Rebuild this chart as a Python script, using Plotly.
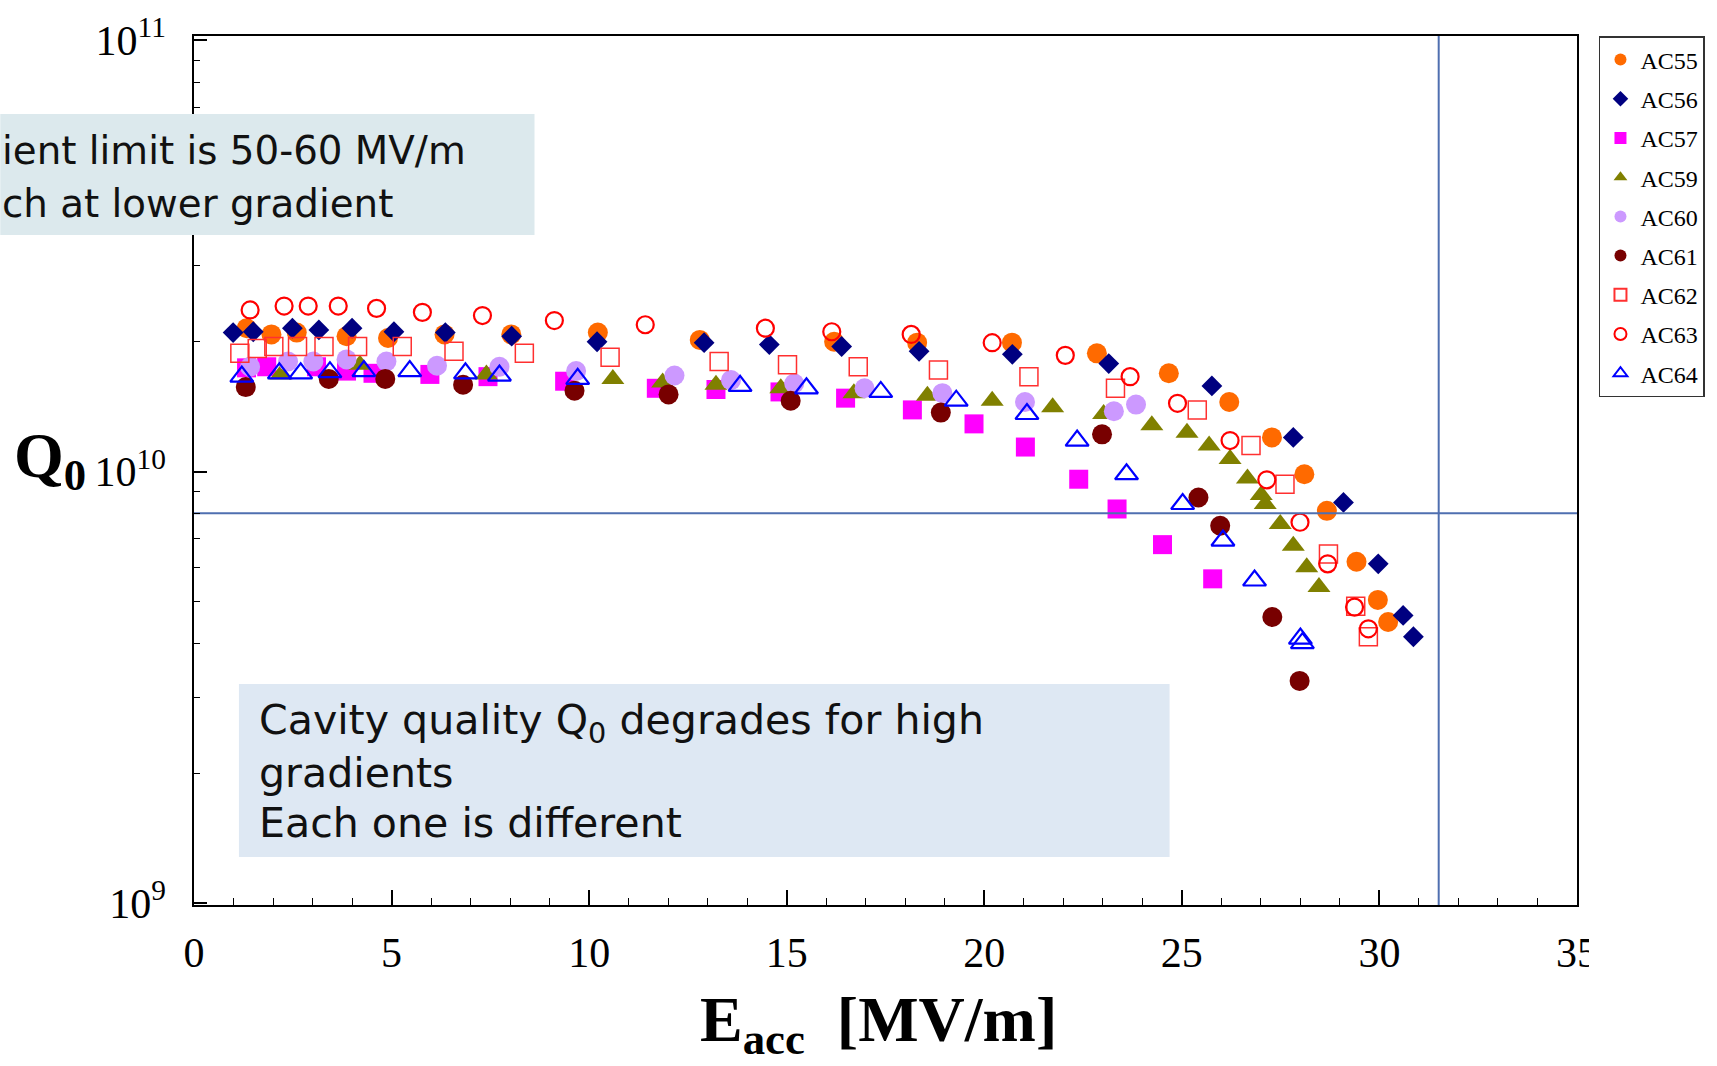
import plotly.graph_objects as go

# ---------------- data (E_acc in MV/m, Q0) ----------------
x_ac55 = [1.33, 1.96, 2.60, 3.86, 4.91, 6.34, 8.03, 10.22, 12.8, 16.2, 18.3, 20.7, 22.85, 24.67, 26.20, 27.28, 28.10, 28.67, 29.42, 29.96, 30.22]
q_ac55 = [2.15e10, 2.08e10, 2.10e10, 2.06e10, 2.04e10, 2.08e10, 2.08e10, 2.10e10, 2.02e10, 2.00e10, 1.99e10, 1.99e10, 1.88e10, 1.69e10, 1.45e10, 1.20e10, 9.86e9, 8.11e9, 6.18e9, 5.04e9, 4.48e9]

x_ac56 = [0.99, 1.50, 2.49, 3.16, 4.00, 5.06, 6.36, 8.04, 10.20, 12.91, 14.56, 16.39, 18.35, 20.71, 23.15, 25.76, 27.82, 29.09, 29.97, 30.60, 30.86]
q_ac56 = [2.10e10, 2.11e10, 2.15e10, 2.13e10, 2.15e10, 2.11e10, 2.10e10, 2.06e10, 2.00e10, 1.99e10, 1.97e10, 1.95e10, 1.90e10, 1.87e10, 1.78e10, 1.58e10, 1.20e10, 8.48e9, 6.11e9, 4.64e9, 4.14e9]

x_ac57 = [1.33, 1.84, 3.10, 3.86, 4.53, 5.97, 7.44, 9.38, 11.70, 13.21, 14.83, 16.49, 18.18, 19.74, 21.04, 22.39, 23.36, 24.51, 25.78]
q_ac57 = [1.74e10, 1.75e10, 1.75e10, 1.71e10, 1.69e10, 1.68e10, 1.66e10, 1.62e10, 1.56e10, 1.55e10, 1.53e10, 1.48e10, 1.39e10, 1.29e10, 1.14e10, 9.60e9, 8.19e9, 6.77e9, 5.64e9]

x_ac59 = [2.2, 4.2, 7.4, 10.6, 11.86, 13.21, 14.85, 16.70, 18.56, 20.20, 21.73, 23.02, 24.24, 25.13, 25.69, 26.22, 26.66, 27.01, 27.11, 27.49, 27.82, 28.16, 28.47]
q_ac59 = [1.68e10, 1.77e10, 1.68e10, 1.64e10, 1.61e10, 1.59e10, 1.56e10, 1.52e10, 1.50e10, 1.46e10, 1.41e10, 1.36e10, 1.28e10, 1.23e10, 1.15e10, 1.07e10, 9.64e9, 8.82e9, 8.41e9, 7.56e9, 6.73e9, 6.00e9, 5.40e9]

x_ac60 = [1.42, 2.38, 3.02, 3.86, 4.87, 6.15, 7.73, 9.67, 12.16, 13.59, 15.19, 16.97, 18.94, 21.03, 23.28, 23.84]
q_ac60 = [1.75e10, 1.80e10, 1.80e10, 1.82e10, 1.80e10, 1.76e10, 1.75e10, 1.71e10, 1.67e10, 1.63e10, 1.60e10, 1.56e10, 1.52e10, 1.45e10, 1.38e10, 1.43e10]

x_ac61 = [1.31, 3.41, 4.84, 6.81, 9.63, 12.01, 15.10, 18.90, 22.98, 25.42, 25.97, 27.29, 27.98]
q_ac61 = [1.57e10, 1.64e10, 1.64e10, 1.59e10, 1.54e10, 1.51e10, 1.46e10, 1.37e10, 1.22e10, 8.71e9, 7.49e9, 4.60e9, 3.27e9]

x_ac62 = [1.16, 1.60, 2.02, 2.62, 3.29, 4.14, 5.27, 6.58, 8.36, 10.53, 13.29, 15.02, 16.81, 18.84, 21.13, 23.32, 25.39, 26.75, 27.61, 28.71, 29.40, 29.72]
q_ac62 = [1.88e10, 1.93e10, 1.95e10, 1.95e10, 1.95e10, 1.95e10, 1.95e10, 1.90e10, 1.88e10, 1.84e10, 1.80e10, 1.77e10, 1.75e10, 1.72e10, 1.66e10, 1.56e10, 1.39e10, 1.15e10, 9.35e9, 6.44e9, 4.87e9, 4.14e9]

x_ac63 = [1.42, 2.28, 2.89, 3.65, 4.62, 5.78, 7.30, 9.12, 11.42, 14.46, 16.14, 18.15, 20.20, 22.05, 23.69, 24.89, 26.22, 27.15, 27.99, 28.69, 29.37, 29.72]
q_ac63 = [2.37e10, 2.42e10, 2.42e10, 2.42e10, 2.39e10, 2.34e10, 2.30e10, 2.24e10, 2.19e10, 2.15e10, 2.11e10, 2.08e10, 1.99e10, 1.86e10, 1.66e10, 1.44e10, 1.18e10, 9.57e9, 7.63e9, 6.11e9, 4.85e9, 4.32e9]

x_ac64 = [1.21, 2.16, 2.70, 3.44, 4.30, 5.46, 6.87, 7.73, 9.71, 13.82, 15.50, 17.38, 19.29, 21.08, 22.35, 23.60, 25.02, 26.04, 26.84, 28.00, 28.05]
q_ac64 = [1.66e10, 1.69e10, 1.69e10, 1.70e10, 1.71e10, 1.71e10, 1.69e10, 1.67e10, 1.64e10, 1.58e10, 1.56e10, 1.53e10, 1.46e10, 1.36e10, 1.18e10, 9.86e9, 8.41e9, 6.92e9, 5.59e9, 4.10e9, 4.00e9]

# reference limit lines
q_limit = 8.0e9
e_limit = 31.5

x_ticks = [0, 5, 10, 15, 20, 25, 30, 35]
x_ticktext = ["0", "5", "10", "15", "20", "25", "30", "35"]
y_ticks = [1e9, 1e10, 1e11]
y_ticktext = ["10<sup>9</sup>", "10<sup>10</sup>", "10<sup>11</sup>"]
y_minor = [m * 1e9 for m in range(2, 10)] + [m * 1e10 for m in range(2, 10)]

series = [
    ("AC55", x_ac55, q_ac55, dict(symbol="circle", size=20, color="#FF6A00")),
    ("AC56", x_ac56, q_ac56, dict(symbol="diamond", size=16, color="#000080")),
    ("AC57", x_ac57, q_ac57, dict(symbol="square", size=19, color="#FF00FF")),
    ("AC59", x_ac59, q_ac59, dict(symbol="triangle-up", size=20, color="#808000")),
    ("AC60", x_ac60, q_ac60, dict(symbol="circle", size=20, color="#CC99FF")),
    ("AC61", x_ac61, q_ac61, dict(symbol="circle", size=20, color="#780000")),
    ("AC62", x_ac62, q_ac62, dict(symbol="square-open", size=18, color="#FF3030", line=dict(width=1.5, color="#FF3030"))),
    ("AC63", x_ac63, q_ac63, dict(symbol="circle-open", size=17, color="#FF0000", line=dict(width=2.2, color="#FF0000"))),
    ("AC64", x_ac64, q_ac64, dict(symbol="triangle-up-open", size=20, color="#0000FF", line=dict(width=2.2, color="#0000FF"))),
]

fig = go.Figure()
for name, xs, qs, mk in series:
    mk = dict(mk)
    if "line" not in mk:
        mk["line"] = dict(width=0)
    fig.add_trace(go.Scatter(x=xs, y=qs, mode="markers", name=name, marker=mk,
                             legendgroup=name))

line_col = "#4F6FB0"
fig.add_trace(go.Scatter(x=[-1, 36], y=[q_limit, q_limit], mode="lines",
                         line=dict(color=line_col, width=2), showlegend=False, hoverinfo="skip"))
fig.add_trace(go.Scatter(x=[e_limit, e_limit], y=[5e8, 2e11], mode="lines",
                         line=dict(color=line_col, width=2), showlegend=False, hoverinfo="skip"))

W, H = 1717, 1066
L, R, T, B = 194, 138, 36, 161
pw, ph = W - L - R, H - T - B

def px(xp):
    return (xp - L) / pw

def py(yp):
    return (H - B - yp) / ph

serif = "Liberation Serif, Times New Roman, serif"
sans = "DejaVu Sans, sans-serif"

fig.update_layout(
    width=W, height=H,
    margin=dict(l=L, r=R, t=T, b=B, pad=0),
    paper_bgcolor="white", plot_bgcolor="white",
    showlegend=True,
    legend=dict(x=px(1601), y=1.0, xanchor="left", yanchor="top",
                bgcolor="white", bordercolor="#333333", borderwidth=1.5,
                font=dict(family=serif, size=24, color="black"),
                itemsizing="constant", tracegroupgap=5),
    xaxis=dict(range=[0, 35], tickvals=x_ticks, ticktext=x_ticktext,
               ticks="inside", ticklen=15, tickwidth=1.5, tickcolor="black",
               showline=True, linecolor="black", linewidth=1.5, mirror=True,
               showgrid=False, zeroline=False,
               tickfont=dict(family=serif, size=42, color="black"),
               ticklabelstandoff=10,
               minor=dict(dtick=1, ticks="inside", ticklen=7, tickwidth=1.2, tickcolor="black", showgrid=False)),
    yaxis=dict(type="log", range=[8.995, 11.01], tickvals=y_ticks, ticktext=y_ticktext,
               ticks="inside", ticklen=13, tickwidth=1.5, tickcolor="black",
               showline=True, linecolor="black", linewidth=1.5, mirror=True,
               showgrid=False, zeroline=False,
               tickfont=dict(family=serif, size=42, color="black"),
               ticklabelstandoff=18,
               minor=dict(tickvals=y_minor, ticks="inside", ticklen=6, tickwidth=1.2, tickcolor="black", showgrid=False)),
)

shapes = [
    dict(type="rect", xref="paper", yref="paper", x0=px(0), x1=px(535), y0=py(235), y1=py(114),
         fillcolor="#DCE9ED", line=dict(width=0), layer="above"),
    dict(type="rect", xref="paper", yref="paper", x0=px(239), x1=px(1171), y0=py(857), y1=py(684),
         fillcolor="#DEE8F3", line=dict(width=0), layer="above"),
    dict(type="rect", xref="paper", yref="paper", x0=px(1591), x1=px(1717), y0=py(985), y1=py(915),
         fillcolor="white", line=dict(width=0), layer="above"),
]
fig.update_layout(shapes=shapes)

ann = []
def add_text(text, xp, yp, size, family, xanchor="left", color="#111111"):
    ann.append(dict(text=text, xref="paper", yref="paper", x=px(xp), y=py(yp),
                    xanchor=xanchor, yanchor="middle", showarrow=False, align="left",
                    font=dict(family=family, size=size, color=color)))

add_text("ient limit is 50-60 MV/m", 0, 151, 38.8, sans)
add_text("ch at lower gradient", 0, 204, 38.8, sans)
add_text("Cavity quality Q<sub>0</sub> degrades for high", 257, 723, 41.1, sans)
add_text("gradients", 257, 773, 41.1, sans)
add_text("Each one is different", 257, 823, 41.1, sans)
add_text("<b>E<sub>acc</sub>\u00a0\u00a0[MV/m]</b>", 879, 1024, 64, serif, xanchor="center", color="black")
add_text("<b>Q<sub>0</sub></b>", 12, 460, 64, serif, color="black")
fig.update_layout(annotations=ann)

fig.write_html("out.html", config={"displayModeBar": False},
               post_script="document.body.style.margin='0';document.body.style.overflow='hidden';")
